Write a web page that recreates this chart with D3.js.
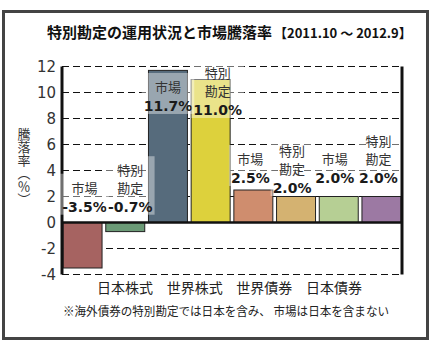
<!DOCTYPE html>
<html>
<head>
<meta charset="utf-8">
<script src="https://cdn.jsdelivr.net/npm/d3@7"></script>
<style>
  html, body { margin: 0; padding: 0; background: #fff; }
  svg { display: block; }
</style>
</head>
<body>
<svg id="chart" width="431" height="344"></svg>
<script>
// ---- data ----
const categories = ["日本株式", "世界株式", "世界債券", "日本債券"];
const seriesNames = ["市場", "特別勘定"];
const marketValues = [-3.5, 11.7, 2.5, 2.0];
const specialValues = [-0.7, 11.0, 2.0, 2.0];
const yTicks = [-4, -2, 0, 2, 4, 6, 8, 10, 12];
const titleMain = "特別勘定の運用状況と市場騰落率";
const titlePeriod = "【2011.10 ～ 2012.9】";
const yTitle = "騰落率（％）";
const footnote = "※海外債券の特別勘定では日本を含み、 市場は日本を含まない";

// ---- style / layout (not data) ----
const barColors = ["#a66361", "#6b9a76", "#566b7c", "#ddd13c", "#cf8d6e", "#d4b271", "#b6cf94", "#9c79a3"];
const labelLines = { "市場": ["市場"], "特別勘定": ["特別", "勘定"] };
// label anchor (value-text baseline, in axis units) and horizontal nudge (px)
const labelAnchor = [0.83, 0.83, 8.58, 8.27, 3.04, 2.27, 3.04, 3.04];
const labelNudge = [2, 5, 0, 7, -3, -4, -4, -3];

const bars = [];
categories.forEach((c, i) => {
  bars.push({ key: c + "|0", cat: c, series: seriesNames[0], value: marketValues[i] });
  bars.push({ key: c + "|1", cat: c, series: seriesNames[1], value: specialValues[i] });
});
bars.forEach((b, i) => { b.color = barColors[i]; b.anchor = labelAnchor[i]; b.dx = labelNudge[i]; });

const svg = d3.select("#chart");
const plotL = 62, plotR = 402;

// outer frame
svg.append("rect").attr("x", 3.5).attr("y", 11.5).attr("width", 424).attr("height", 327)
  .attr("fill", "#fff").attr("stroke", "#444").attr("stroke-width", 3);

// title
const t = svg.append("text").attr("x", 47).attr("y", 37.5)
  .attr("font-family", "'Noto Sans CJK JP', sans-serif").attr("font-weight", "bold").attr("fill", "#111");
t.append("tspan").attr("font-size", 15).text(titleMain);
t.append("tspan").attr("font-size", 13).attr("dx", 2).text(titlePeriod);

const x = d3.scaleBand().domain(bars.map(d => d.key)).range([plotL, plotR]).paddingInner(0.087).paddingOuter(0.025);
const y = d3.scaleLinear().domain([-4, 12]).range([274.5, 66.5]);

// gridlines (dashed)
svg.append("g").selectAll("line").data(yTicks.filter(v => v !== 0)).join("line")
  .attr("x1", plotL).attr("x2", plotR).attr("y1", d => y(d)).attr("y2", d => y(d))
  .attr("stroke", "#111").attr("stroke-width", 1.2).attr("stroke-dasharray", "7,4");

// bars
svg.append("g").selectAll("rect").data(bars).join("rect")
  .attr("x", d => x(d.key)).attr("width", x.bandwidth())
  .attr("y", d => y(Math.max(0, d.value))).attr("height", d => Math.abs(y(d.value) - y(0)))
  .attr("fill", d => d.color).attr("stroke", "#222").attr("stroke-width", 1);

// axis lines
svg.append("line").attr("x1", plotL).attr("x2", plotL).attr("y1", y(12)).attr("y2", y(-4))
  .attr("stroke", "#111").attr("stroke-width", 3);
svg.append("line").attr("x1", plotR).attr("x2", plotR).attr("y1", y(12)).attr("y2", y(-4))
  .attr("stroke", "#111").attr("stroke-width", 3);
svg.append("line").attr("x1", plotL).attr("x2", plotR).attr("y1", y(0)).attr("y2", y(0))
  .attr("stroke", "#111").attr("stroke-width", 2.5);

// y tick labels via axis
const yAxis = svg.append("g").attr("transform", `translate(${plotL - 6},0)`)
  .call(d3.axisLeft(y).tickValues(yTicks).tickSize(0).tickPadding(0).tickFormat(d => d < 0 ? "-" + Math.abs(d) : String(d)));
yAxis.select(".domain").remove();
yAxis.selectAll("text").attr("font-family", "'DejaVu Sans', sans-serif").attr("font-size", 15).attr("fill", "#333");

// y title (vertical)
svg.append("text").attr("x", 24).attr("y", 128)
  .attr("font-family", "'Noto Sans CJK JP', sans-serif").attr("font-size", 13).attr("fill", "#333")
  .style("writing-mode", "vertical-rl").text(yTitle);

// category labels
const xc = d3.scalePoint().domain(categories).range([125, 334]);
svg.append("g").selectAll("text").data(categories).join("text")
  .attr("x", d => xc(d)).attr("y", 293).attr("text-anchor", "middle")
  .attr("font-family", "'Noto Sans CJK JP', sans-serif").attr("font-size", 14).attr("fill", "#222")
  .text(d => d);

// footnote
svg.append("text").attr("x", 226).attr("y", 316).attr("text-anchor", "middle")
  .attr("textLength", 326).attr("lengthAdjust", "spacingAndGlyphs")
  .attr("font-family", "'Noto Sans CJK JP', sans-serif").attr("font-size", 12).attr("fill", "#222")
  .text(footnote);

// data labels with translucent boxes
const fmt = v => (v < 0 ? "-" : "") + Math.abs(v).toFixed(1) + "%";
bars.forEach(b => {
  const g = svg.append("g");
  const cx = x(b.key) + x.bandwidth() / 2 + b.dx;
  const base = y(b.anchor);
  const box = g.append("rect");
  const lines = labelLines[b.series];
  lines.forEach((ln, j) => {
    g.append("text").attr("x", cx).attr("y", base - 19 - (lines.length - 1 - j) * 17.5)
      .attr("text-anchor", "middle")
      .attr("font-family", "'Noto Sans CJK JP', sans-serif").attr("font-size", 13).attr("fill", "#333")
      .text(ln);
  });
  g.append("text").attr("x", cx).attr("y", base).attr("text-anchor", "middle")
    .attr("font-family", "'DejaVu Sans', sans-serif").attr("font-weight", "bold").attr("font-size", 14).attr("fill", "#1a1a1a")
    .text(fmt(b.value));
  const bb = g.node().getBBox();
  box.attr("x", bb.x - 2).attr("y", bb.y - 4).attr("width", bb.width + 4).attr("height", bb.height + 4)
    .attr("fill", "#fff").attr("fill-opacity", 0.4);
});
</script>
</body>
</html>
